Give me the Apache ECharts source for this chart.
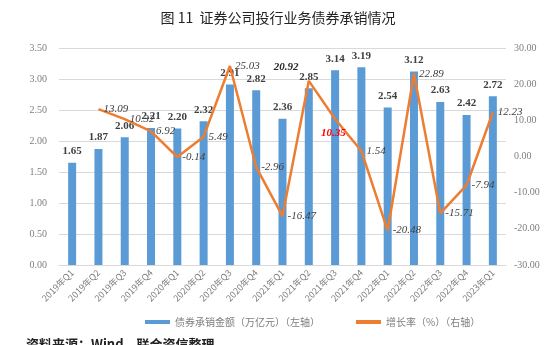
<!DOCTYPE html>
<html><head><meta charset="utf-8">
<script src="https://cdn.jsdelivr.net/npm/echarts@6/dist/echarts.min.js"></script>
<style>html,body{margin:0;padding:0;background:#fff}#c{width:556px;height:345px}</style>
</head><body><div id="c"></div>
<script>
const categories = ['2019年Q1','2019年Q2','2019年Q3','2019年Q4','2020年Q1','2020年Q2','2020年Q3','2020年Q4','2021年Q1','2021年Q2','2021年Q3','2021年Q4','2022年Q1','2022年Q2','2022年Q3','2022年Q4','2023年Q1'];
const underwriting = [1.65,1.87,2.06,2.21,2.20,2.32,2.91,2.82,2.36,2.85,3.14,3.19,2.54,3.12,2.63,2.42,2.72];
const growth = [null,13.09,10.32,6.92,-0.14,5.49,25.03,-2.96,-16.47,20.92,10.35,1.54,-20.48,22.89,-15.71,-7.94,12.23];
const leftTicks = [0,3.5,0.5];
const rightTicks = [-30,30,10];
const seriesNames = ['债券承销金额（万亿元）（左轴）','增长率（%）（右轴）'];
const titleText = '图 11  证券公司投行业务债券承销情况';
const sourceText = '资料来源：Wind，联合资信整理';

const serif = '"Liberation Serif","Times New Roman",serif';
const growthData = growth.map((v,i)=>{
  if (v === null) return v;
  if (i === 9) return {value:v, label:{position:'right',offset:[-40,-14],fontWeight:'bold',color:'#262626'}};
  if (i === 10) return {value:v, label:{position:'right',offset:[-19,14],color:'#FF0000',fontWeight:'bold'}};
  return v;
});

const chart = echarts.init(document.getElementById('c'));
chart.setOption({
  animation:false,
  title:{text:titleText,left:'center',top:6,textStyle:{fontFamily:'"Noto Sans CJK SC",sans-serif',fontSize:14,fontWeight:'normal',color:'#222'}},
  grid:{left:59,right:50,top:48,bottom:80},
  legend:{left:140,top:312,itemWidth:25,itemHeight:4,itemGap:36,icon:'rect',
    textStyle:{fontFamily:'"Noto Sans CJK SC",sans-serif',fontSize:10,color:'#7F7F7F'},
    data:[{name:seriesNames[0]},{name:seriesNames[1]}]},
  xAxis:{type:'category',data:categories,
    axisLine:{lineStyle:{color:'#D9D9D9'}},axisTick:{show:false},
    axisLabel:{rotate:45,fontSize:9,color:'#7F7F7F',fontFamily:'"Noto Sans CJK SC",sans-serif',margin:6,interval:0}},
  yAxis:[
    {type:'value',min:leftTicks[0],max:leftTicks[1],interval:leftTicks[2],
     axisLine:{show:false},axisTick:{show:false},
     splitLine:{lineStyle:{color:'#D9D9D9'}},
     axisLabel:{formatter:v=>v.toFixed(2),fontSize:10,color:'#7F7F7F',fontFamily:serif,margin:12}},
    {type:'value',min:rightTicks[0],max:rightTicks[1],interval:rightTicks[2],
     axisLine:{show:false},axisTick:{show:false},splitLine:{show:false},
     axisLabel:{formatter:v=>v.toFixed(2),fontSize:10,color:'#7F7F7F',fontFamily:serif,margin:8}}
  ],
  series:[
    {name:seriesNames[0],type:'bar',data:underwriting,barWidth:8,yAxisIndex:0,
     itemStyle:{color:'#5B9BD5'},
     label:{show:true,position:'top',distance:6,formatter:p=>p.value.toFixed(2),
       fontFamily:serif,fontWeight:'bold',fontSize:11,color:'#404040'}},
    {name:seriesNames[1],type:'line',data:growthData,yAxisIndex:1,
     symbol:'circle',symbolSize:0.01,showSymbol:true,
     lineStyle:{color:'#ED7D31',width:2.5},itemStyle:{color:'#ED7D31'},
     label:{show:true,position:'right',distance:5,formatter:p=>Number(p.value).toFixed(2),
       fontFamily:serif,fontStyle:'italic',fontSize:11,color:'#404040'}}
  ],
  graphic:[{type:'text',left:26,top:338,style:{text:sourceText,fontSize:13,fontWeight:'bold',fill:'#222',fontFamily:'"Noto Sans CJK SC",sans-serif'}}]
});
</script></body></html>
